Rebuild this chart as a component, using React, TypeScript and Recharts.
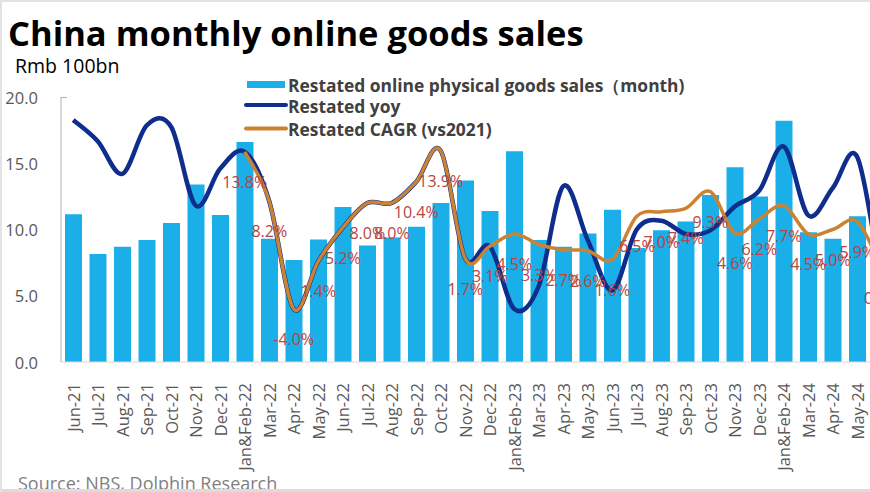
import { ComposedChart, Bar, Line, XAxis, YAxis, LabelList } from 'recharts';

const months = [
  'Jun-21', 'Jul-21', 'Aug-21', 'Sep-21', 'Oct-21', 'Nov-21', 'Dec-21',
  'Jan&Feb-22', 'Mar-22', 'Apr-22', 'May-22', 'Jun-22', 'Jul-22', 'Aug-22', 'Sep-22', 'Oct-22', 'Nov-22', 'Dec-22',
  'Jan&Feb-23', 'Mar-23', 'Apr-23', 'May-23', 'Jun-23', 'Jul-23', 'Aug-23', 'Sep-23', 'Oct-23', 'Nov-23', 'Dec-23',
  'Jan&Feb-24', 'Mar-24', 'Apr-24', 'May-24', 'Jun-24',
];

// Rmb 100bn
const sales = [
  11.15, 8.15, 8.7, 9.2, 10.5, 13.4, 11.1,
  16.6, 9.3, 7.7, 9.25, 11.7, 8.8, 9.4, 10.2, 12.0, 13.7, 11.4,
  15.9, 9.2, 8.7, 9.7, 11.5, 8.6, 9.95, 10.6, 12.6, 14.7, 12.5,
  18.2, 9.8, 9.3, 11.0, 11.5,
];

// %
const yoy = [
  17.4, 15.0, 11.3, 16.8, 16.6, 7.7, 11.9,
  13.8, 8.2, -4.0, 1.4, 5.2, 8.0, 8.0, 10.4, 13.9, 1.7, 3.1,
  -4.0, -1.4, 9.9, 3.8, -1.9, 5.0, 6.0, 4.5, 4.9, 7.6, 9.4,
  14.4, 6.6, 9.7, 13.2, -1.4,
];

// % CAGR vs 2021
const cagr = [
  null, null, null, null, null, null, null,
  13.8, 8.2, -4.0, 1.4, 5.2, 8.0, 8.0, 10.4, 13.9, 1.7, 3.1,
  4.5, 3.3, 2.7, 2.6, 1.6, 6.5, 7.0, 7.4, 9.3, 4.6, 6.2,
  7.7, 4.5, 5.0, 5.9, 0.6,
];

const leftTicks = [0, 5, 10, 15, 20];

const BAR = '#1aafe8';
const NAVY = '#0f2d8c';
const ORANGE = '#cc8233';
const FONT = '"Open Sans", "Noto Sans", sans-serif';

const data = months.map((m, i) => ({ month: m, sales: sales[i], yoy: yoy[i], cagr: cagr[i] }));

// Excel-like smoothed line (Catmull-Rom through the points)
const smooth = (context: any) => {
  let pts: number[][] = [];
  return {
    areaStart() {},
    areaEnd() {},
    lineStart() {
      pts = [];
    },
    point(x: number, y: number) {
      pts.push([+x, +y]);
    },
    lineEnd() {
      if (!pts.length) return;
      context.moveTo(pts[0][0], pts[0][1]);
      for (let i = 0; i < pts.length - 1; i++) {
        const p0 = pts[i - 1] || pts[i];
        const p1 = pts[i];
        const p2 = pts[i + 1];
        const p3 = pts[i + 2] || p2;
        context.bezierCurveTo(
          p1[0] + (p2[0] - p0[0]) / 6,
          p1[1] + (p2[1] - p0[1]) / 6,
          p2[0] - (p3[0] - p1[0]) / 6,
          p2[1] - (p3[1] - p1[1]) / 6,
          p2[0],
          p2[1],
        );
      }
    },
  };
};

const XTick = ({ x, y, payload }: any) => (
  <text
    x={x}
    y={y + 13}
    transform={`rotate(-90, ${x}, ${y + 13})`}
    textAnchor="end"
    dominantBaseline="central"
    fontSize={16.5}
    fontFamily={FONT}
    fill="#595959"
  >
    {payload.value}
  </text>
);

const YTick = ({ y, payload }: any) => (
  <text x={38} y={y} textAnchor="end" dominantBaseline="central" fontSize={16.5} fontFamily={FONT} fill="#595959">
    {Number(payload.value).toFixed(1)}
  </text>
);

const CagrLabel = ({ x, y, value }: any) => {
  if (value == null) return null;
  return (
    <text x={x} y={y + 30} textAnchor="middle" dominantBaseline="central" fontSize={16} fontFamily={FONT} fill="#b8453f">
      {`${Number(value).toFixed(1)}%`}
    </text>
  );
};

export default function App() {
  return (
    <div style={{ position: 'fixed', left: 0, top: 0, width: 870, height: 492, overflow: 'hidden', background: '#fff' }}>
      <ComposedChart width={900} height={492} data={data} margin={{ top: 97, right: 6, bottom: 0, left: 0 }}>
        <XAxis
          dataKey="month"
          interval={0}
          tick={<XTick />}
          tickLine={false}
          axisLine={{ stroke: '#d9d9d9' }}
          height={130}
        />
        <YAxis
          yAxisId="l"
          domain={[0, 20]}
          ticks={leftTicks}
          tick={<YTick />}
          tickLine={false}
          axisLine={{ stroke: '#b0b0b0' }}
          width={61}
        />
        <YAxis yAxisId="r" orientation="right" domain={[-10, 20]} hide />
        <Bar yAxisId="l" dataKey="sales" fill={BAR} barSize={17} isAnimationActive={false} />
        <Line
          yAxisId="r"
          dataKey="yoy"
          type={smooth as any}
          stroke={NAVY}
          strokeWidth={4.5}
          dot={false}
          isAnimationActive={false}
        />
        <Line
          yAxisId="r"
          dataKey="cagr"
          type={smooth as any}
          stroke={ORANGE}
          strokeWidth={3.5}
          dot={false}
          isAnimationActive={false}
        >
          <LabelList dataKey="cagr" content={<CagrLabel />} />
        </Line>
      </ComposedChart>
      <svg width={870} height={492} style={{ position: 'absolute', left: 0, top: 0, pointerEvents: 'none' }}>
        <text x={8} y={46} fontSize={34.5} fontWeight={700} fontFamily={FONT} fill="#000">
          China monthly online goods sales
        </text>
        <text x={15} y={73} fontSize={19.5} fontFamily={FONT} fill="#000">
          Rmb 100bn
        </text>
        <line x1={61} y1={97.5} x2={67} y2={97.5} stroke="#b0b0b0" />
        <rect x={247} y={81} width={38} height={7} fill={BAR} />
        <line x1={246} y1={105} x2={286} y2={105} stroke={NAVY} strokeWidth={4} strokeLinecap="round" />
        <line x1={246} y1={128.5} x2={286} y2={128.5} stroke={ORANGE} strokeWidth={4} strokeLinecap="round" />
        <text x={288} y={91.5} fontSize={17.4} fontWeight={700} fontFamily={FONT} fill="#404040">
          Restated online physical goods sales（month)
        </text>
        <text x={288} y={113} fontSize={17.4} fontWeight={700} fontFamily={FONT} fill="#404040">
          Restated yoy
        </text>
        <text x={288} y={135.5} fontSize={17.4} fontWeight={700} fontFamily={FONT} fill="#404040">
          Restated CAGR (vs2021)
        </text>
        <text x={18} y={490} fontSize={18} fontFamily={FONT} fill="#7f7f7f">
          Source: NBS, Dolphin Research
        </text>
        <rect x={0} y={489} width={870} height={3} fill="#dcdcdc" />
        <rect x={0} y={0} width={870} height={2} fill="#e3e3e3" />
        <rect x={0} y={0} width={2} height={492} fill="#e3e3e3" />
      </svg>
    </div>
  );
}
